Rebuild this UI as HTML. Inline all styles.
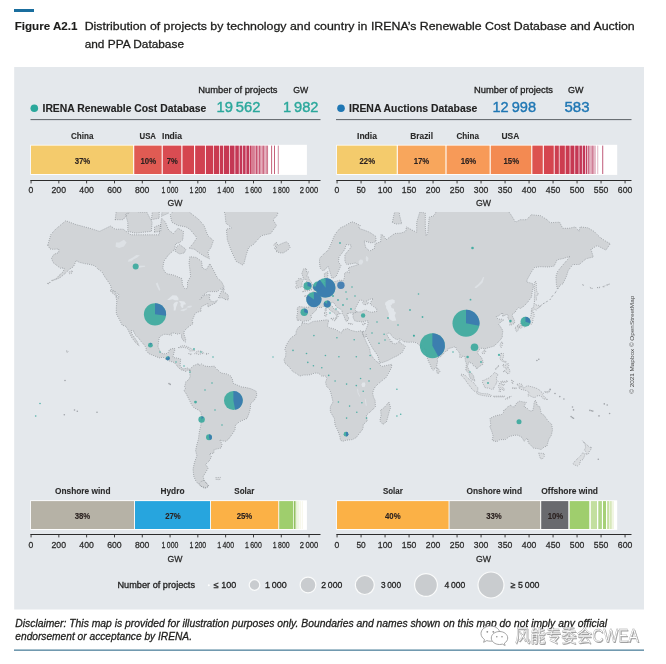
<!DOCTYPE html>
<html><head><meta charset="utf-8"><title>Figure A2.1</title>
<style>html,body{margin:0;padding:0;background:#fff}svg{display:block}text{font-family:"Liberation Sans", "Noto Sans CJK SC", sans-serif}</style>
</head><body>
<svg width="666" height="664" viewBox="0 0 666 664">
<rect width="666" height="664" fill="#fff"/>
<rect x="14" y="9" width="20" height="3" fill="#1a6e9e"/>
<text x="14.7" y="30.1" font-size="11.4" font-weight="bold" fill="#1d1d1b" stroke="#1d1d1b" stroke-width="0.12" textLength="62.8" lengthAdjust="spacingAndGlyphs">Figure A2.1</text>
<text x="84.7" y="30.1" font-size="11.4" fill="#1d1d1b" stroke="#1d1d1b" stroke-width="0.28" textLength="550.0" lengthAdjust="spacingAndGlyphs">Distribution of projects by technology and country in IRENA’s Renewable Cost Database and Auction</text>
<text x="84.7" y="47.5" font-size="11.4" fill="#1d1d1b" stroke="#1d1d1b" stroke-width="0.28" textLength="99.3" lengthAdjust="spacingAndGlyphs">and PPA Database</text>
<rect x="14.2" y="67" width="629.8" height="542.5" fill="#e4e8ec"/>
<g id="map"><defs><clipPath id="mc"><rect x="14.2" y="212" width="629.8" height="290"/></clipPath></defs><g clip-path="url(#mc)"><path d="M47.7 245.2L50.9 234.4L55.6 229.2L65.8 220.7L76.0 224.6L90.1 228.3L99.5 231.4L110.5 226.0L115.2 229.2L123.1 229.2L130.9 234.8L141.9 234.8L151.4 234.8L159.2 234.8L161.6 218.2L165.5 222.2L168.6 230.1L173.3 233.5L178.0 228.3L183.5 231.4L182.8 239.8L179.6 242.5L175.7 243.7L174.1 250.1L168.6 254.7L163.9 261.3L162.8 268.2L166.0 273.6L173.3 275.0L182.0 278.6L182.4 285.0L185.1 288.9L187.5 288.4L187.5 281.9L190.6 276.4L189.8 269.1L189.0 263.0L189.8 256.7L196.1 257.4L201.6 261.3L202.4 268.2L206.3 269.7L209.9 263.6L214.2 271.5L217.3 277.8L221.7 281.9L224.1 287.1L220.4 289.1L217.3 291.6L207.9 291.6L203.2 295.2L200.0 299.4L204.7 295.0L210.2 294.3L209.4 297.3L210.1 300.8L214.2 301.9L217.3 300.3L215.7 303.0L211.6 304.8L207.9 307.0L207.9 303.7L206.3 304.2L201.6 306.6L200.5 309.8L201.6 310.8L198.5 311.9L195.3 313.1L193.3 318.0L192.2 320.6L193.0 323.7L189.4 326.2L187.5 327.7L184.3 330.7L183.9 334.1L185.7 339.3L185.3 342.1L183.1 340.4L181.5 337.4L181.5 335.0L179.6 333.6L177.3 334.1L174.1 333.0L171.0 333.2L171.5 335.2L167.8 334.5L163.9 334.3L159.5 336.8L158.7 340.7L158.0 346.7L160.5 352.3L163.1 353.9L167.8 353.4L169.4 349.6L173.3 348.3L175.2 348.8L174.0 352.6L172.9 357.5L176.5 357.9L180.7 359.0L180.1 365.3L182.3 368.8L185.9 368.5L187.5 368.0L190.0 369.4L189.8 371.3L188.3 369.6L185.9 371.5L183.5 370.4L181.2 369.9L178.0 367.2L176.8 365.5L174.1 362.4L170.2 361.3L166.6 359.8L163.1 357.2L159.2 357.9L154.5 355.9L149.0 353.8L145.9 350.4L146.2 348.1L144.3 345.0L141.2 341.6L138.8 338.4L134.9 334.5L133.8 331.2L131.4 330.5L131.7 333.6L134.6 337.7L137.2 341.6L139.1 345.9L135.7 342.8L131.7 337.5L129.4 332.7L127.5 328.8L125.5 326.2L122.2 325.2L120.0 320.8L119.0 318.8L117.1 315.4L116.3 313.3L116.3 308.1L116.8 300.8L115.7 295.9L118.7 298.3L118.7 294.5L116.0 292.1L111.6 289.6L110.5 285.3L107.4 280.5L105.0 277.2L101.9 271.8L98.0 269.1L94.8 265.8L90.1 264.5L84.6 263.6L79.1 262.3L76.3 260.4L73.5 266.7L69.7 269.1L65.0 273.6L60.3 277.5L54.8 280.0L58.7 275.8L63.4 271.5L64.2 267.9L60.3 268.2L57.2 265.8L53.1 262.6L51.5 258.1L54.0 254.3L58.7 252.6L58.7 249.0L53.2 249.3L50.1 249.0ZM242.4 264.8L236.1 261.3L231.4 251.1L227.3 239.8L226.4 229.2L231.4 227.8L225.9 223.1L225.1 214.7L222.0 203.6L217.3 194.3L204.7 193.0L198.5 180.4L207.9 163.8L217.3 143.7L240.8 131.6L264.4 125.0L280.1 143.7L287.9 163.8L283.2 187.6L280.9 203.6L277.0 215.7L273.0 219.7L276.5 225.5L270.7 233.5L261.3 235.7L253.4 244.5L248.7 247.5L246.3 254.7L244.0 263.6ZM190.0 369.4L193.0 365.9L194.7 365.3L198.5 363.5L199.2 365.6L201.6 363.9L204.7 366.1L210.2 366.6L214.2 366.1L215.7 367.9L217.3 369.6L221.2 373.1L226.7 373.9L230.6 375.9L233.0 380.5L232.5 383.0L236.1 384.6L241.6 386.9L246.3 387.6L251.1 388.8L256.1 391.2L256.9 394.8L255.8 398.0L253.4 401.2L250.6 403.6L250.3 408.5L249.3 412.6L247.1 418.4L243.2 420.1L239.3 421.8L235.4 425.3L235.0 429.7L232.2 434.2L228.3 439.4L225.9 441.3L222.0 440.8L219.8 439.8L222.0 444.2L221.1 448.0L214.2 449.6L213.7 453.3L209.4 453.7L211.5 456.8L209.0 461.2L205.5 464.5L208.2 468.0L205.5 472.7L203.2 476.4L204.0 479.9L208.7 486.3L204.7 488.5L200.0 485.5L196.1 481.5L193.8 476.4L193.0 469.1L194.5 462.3L196.9 455.8L195.6 450.6L196.6 445.6L198.5 438.9L199.2 432.4L200.8 425.3L201.3 416.7L201.0 412.2L198.5 410.1L193.8 407.6L191.7 404.9L190.3 402.0L187.5 396.4L185.9 393.2L184.0 390.9L185.4 388.3L184.6 386.6L185.4 383.8L185.9 381.7L187.5 380.6L189.0 379.1L190.1 376.7L189.8 373.6L189.8 371.3ZM302.2 322.7L308.4 323.9L313.1 321.4L319.4 320.8L326.9 319.8L328.8 320.4L328.0 323.3L327.5 326.2L329.6 327.7L335.1 329.2L341.3 332.9L342.9 329.9L347.6 328.6L350.8 330.3L357.0 331.8L360.2 330.8L362.2 331.4L362.7 333.8L364.9 338.9L367.2 344.2L369.6 348.4L370.4 353.4L373.5 358.4L376.7 361.6L379.3 363.2L379.5 364.8L382.1 366.4L386.9 365.3L391.9 364.3L391.3 368.0L388.4 373.6L386.1 377.5L382.1 380.6L377.4 384.6L375.1 386.9L373.5 390.1L372.7 393.2L373.5 397.2L375.1 400.4L375.4 406.8L371.9 410.4L368.8 413.1L366.4 415.1L367.2 421.0L363.3 424.4L363.0 428.8L360.2 432.4L356.2 437.6L352.3 439.6L346.0 440.2L342.9 441.3L340.4 440.2L339.8 436.1L337.4 429.7L335.1 425.3L334.3 418.4L330.3 411.7L330.3 406.8L333.0 402.0L331.9 397.2L330.7 392.4L329.6 389.6L326.4 386.1L325.6 382.2L326.9 378.3L325.3 375.9L321.7 376.2L318.6 373.2L314.6 373.1L309.9 374.8L306.8 375.1L303.6 375.0L299.7 376.1L296.6 373.6L293.4 372.1L290.8 369.1L288.3 365.9L285.1 363.5L284.0 359.7L285.6 356.7L285.9 351.8L284.8 349.3L286.4 345.0L288.3 341.6L291.1 337.7L295.8 334.5L296.3 330.8L298.2 327.5L301.3 325.2ZM388.9 402.0L390.6 407.6L389.2 411.7L386.5 421.8L382.9 424.4L379.8 421.0L381.1 415.1L380.6 410.1L383.7 408.0L386.9 404.4ZM297.4 320.4L296.6 317.0L297.7 312.3L297.1 308.1L298.9 306.6L305.2 307.2L308.7 307.2L309.6 302.6L307.6 298.5L304.1 295.9L309.0 295.2L309.1 292.8L311.8 293.3L314.0 290.1L317.0 288.6L318.9 284.5L322.5 283.2L325.3 282.1L324.4 277.8L324.4 273.6L328.0 271.5L327.7 276.4L326.9 279.2L328.8 281.9L333.5 281.9L340.5 280.0L342.9 280.8L344.5 277.8L344.5 273.6L346.8 271.5L349.2 273.0L348.4 267.6L355.5 265.5L358.6 264.5L355.5 263.0L350.8 263.9L346.8 264.5L344.9 261.3L344.9 254.7L350.8 247.5L351.2 245.2L346.0 244.5L344.9 249.3L339.0 257.0L338.5 262.3L341.0 265.2L337.4 273.6L336.3 276.1L334.0 277.8L331.9 278.1L331.1 275.6L329.1 269.1L328.0 266.1L324.8 270.0L322.5 270.6L320.1 268.2L319.4 261.3L319.8 258.1L324.8 252.9L328.0 250.4L331.1 243.7L334.3 235.7L336.6 232.2L340.5 227.8L344.5 226.0L351.8 221.7L355.5 223.1L360.2 225.5L358.6 228.3L364.1 230.1L369.6 232.2L375.9 236.5L375.9 241.8L371.2 242.9L364.1 241.0L365.7 247.5L369.6 251.1L374.3 248.6L375.1 243.7L380.6 241.8L381.1 234.4L383.7 235.7L386.1 239.8L394.7 233.5L401.0 233.1L405.7 231.4L406.5 226.9L412.0 230.1L416.7 232.2L416.7 222.2L419.8 212.0L425.3 213.1L425.3 226.9L426.1 235.7L427.7 233.5L429.2 217.2L434.0 215.7L437.9 208.7L449.7 197.5L468.5 191.0L474.8 182.6L479.5 191.0L488.9 194.3L489.7 207.6L496.8 209.3L506.2 208.2L510.9 214.7L515.6 222.2L520.3 219.7L526.6 219.7L531.3 214.7L540.7 215.7L547.0 219.7L550.1 222.7L559.6 222.2L562.7 228.3L569.0 228.3L575.3 226.9L579.2 231.4L580.0 226.9L587.8 227.8L594.1 231.4L600.4 237.7L606.7 241.8L610.3 243.7L605.9 250.1L597.2 245.6L591.0 249.3L593.3 257.0L586.2 258.7L579.2 264.5L572.9 264.5L568.2 270.6L566.6 275.8L565.1 279.2L562.7 284.0L560.3 285.0L557.5 289.6L556.4 284.5L555.9 276.4L557.7 271.2L561.9 266.1L567.4 259.7L569.8 256.4L562.7 258.7L557.2 259.7L554.1 266.1L548.6 267.0L539.9 266.7L534.4 267.6L531.3 272.1L527.4 279.2L526.6 281.9L532.9 283.7L533.3 287.1L532.1 292.1L531.6 296.9L528.2 301.5L524.2 305.9L520.3 308.5L518.4 307.7L516.7 309.6L515.1 312.3L511.8 314.8L514.5 320.4L514.7 323.3L511.7 324.8L509.8 325.2L510.1 320.4L507.8 318.4L508.1 315.2L506.7 314.4L502.6 316.4L502.7 312.7L498.3 316.0L496.3 316.4L498.0 319.2L501.5 319.2L503.8 320.0L500.7 322.0L498.8 324.3L500.7 327.1L502.7 330.3L502.7 332.1L502.3 334.5L502.3 337.2L499.4 341.1L496.8 343.3L494.4 345.9L490.8 347.1L485.8 348.4L484.7 350.4L483.7 348.4L481.1 348.3L479.0 350.1L477.4 352.6L479.0 355.1L481.5 357.5L483.1 361.6L482.9 364.3L479.5 366.4L476.4 369.1L476.4 367.2L473.2 365.6L472.4 363.7L470.1 362.7L469.3 361.6L468.5 363.2L467.4 366.4L468.5 368.8L469.3 371.7L471.6 373.2L473.7 375.9L474.0 378.6L475.1 380.8L474.0 380.8L470.5 378.6L469.3 375.9L469.0 373.6L467.7 372.0L465.8 370.4L466.1 366.4L466.5 364.0L465.4 360.8L464.9 356.7L462.2 356.2L461.1 357.9L459.6 357.2L459.9 354.3L458.8 351.8L456.3 349.3L455.6 346.7L453.6 347.1L451.2 347.9L448.1 348.6L447.8 350.4L445.7 351.4L443.4 353.8L440.7 356.6L437.6 357.9L437.3 359.2L437.6 362.1L436.8 364.3L436.8 366.7L435.5 368.3L434.3 369.0L433.2 370.2L431.3 368.0L430.3 364.8L428.9 362.4L427.7 359.2L426.1 355.1L425.8 352.6L425.8 349.3L424.9 348.9L422.7 349.8L419.8 347.2L421.9 345.9L419.0 345.0L416.7 342.8L412.8 342.1L408.1 342.3L403.3 341.6L401.0 339.3L399.9 338.8L397.1 339.7L393.9 338.1L391.6 335.8L390.5 333.6L388.1 333.0L386.9 333.9L387.6 336.3L390.0 339.5L390.3 341.6L391.6 340.7L392.4 343.1L395.5 344.0L398.6 341.7L399.9 340.4L400.2 343.3L403.7 344.9L405.4 346.7L403.3 350.1L402.1 352.6L399.4 354.4L397.1 355.9L393.5 357.5L388.4 360.3L382.9 362.4L379.8 362.9L378.7 359.5L378.2 356.7L375.9 352.9L373.0 348.8L370.4 344.2L367.2 338.1L366.4 336.3L366.3 334.5L365.4 337.2L363.6 336.3L362.7 333.8L362.2 331.4L365.4 331.2L366.4 328.4L367.7 325.2L368.0 322.3L368.3 321.0L365.7 321.0L362.5 322.2L359.4 321.4L357.0 321.4L354.7 320.8L353.1 317.4L353.1 315.4L352.6 314.0L357.0 311.9L361.0 311.9L364.1 310.2L366.4 310.2L368.8 311.7L371.9 312.3L376.7 311.3L376.7 308.7L373.5 306.6L370.4 304.2L370.4 302.8L371.9 300.3L373.2 298.7L370.4 299.2L366.4 301.0L368.8 303.0L366.9 304.2L364.4 305.0L362.5 302.8L364.1 301.5L361.7 300.3L359.7 300.3L358.1 303.0L356.6 305.9L355.5 308.1L355.0 309.2L355.8 311.1L357.0 311.9L355.5 312.3L353.1 312.7L352.3 313.1L349.2 312.7L348.4 314.0L347.1 313.3L347.1 315.4L348.4 317.4L349.2 318.4L347.9 319.4L347.3 321.4L345.6 320.8L344.8 318.4L343.7 315.4L342.1 313.3L342.1 310.6L340.5 309.2L336.6 307.0L335.1 304.8L334.0 303.0L333.0 302.2L331.1 302.8L330.8 305.3L332.7 306.8L334.3 309.6L336.6 310.4L339.8 312.9L340.5 314.2L338.2 313.3L337.6 315.0L338.3 316.4L336.8 318.4L336.1 318.4L336.6 316.4L335.8 314.4L334.0 312.7L330.8 310.8L328.0 308.1L327.5 306.1L325.3 305.0L323.3 306.4L320.9 307.9L318.6 307.2L316.5 307.7L316.5 309.6L315.0 311.5L312.0 314.0L311.0 315.6L311.8 317.0L310.4 319.2L308.4 320.8L304.6 321.0L303.0 322.2L301.6 321.0L299.9 320.0ZM490.0 418.4L490.8 425.3L489.7 426.2L492.1 432.4L493.1 436.1L492.1 440.4L496.8 441.7L499.9 439.6L505.4 439.6L509.3 436.6L514.0 435.3L518.0 435.2L521.9 437.4L524.2 441.3L527.4 437.9L528.2 442.7L531.0 445.6L533.7 448.2L537.6 448.6L541.2 449.6L543.9 447.2L547.0 446.0L548.1 441.7L549.0 438.9L551.4 435.2L552.5 429.7L551.7 424.4L548.6 421.5L546.2 418.4L543.9 415.1L541.2 413.4L540.4 409.3L539.6 406.5L537.1 405.7L536.5 402.0L535.2 400.1L534.0 403.3L533.7 406.8L532.6 410.9L529.7 410.9L527.4 408.5L524.2 406.8L525.0 404.4L526.3 402.3L523.5 402.0L519.5 401.2L517.2 402.5L515.6 404.4L514.8 406.8L512.5 406.8L510.9 405.2L508.5 406.0L506.2 408.9L503.8 410.1L503.4 412.6L501.5 414.6L498.3 415.1L494.7 416.1L491.7 417.6ZM436.9 367.7L439.0 369.4L439.9 371.5L439.0 373.1L437.4 373.6L436.6 371.2ZM302.7 291.8L306.0 291.1L309.9 290.4L313.7 289.1L312.6 288.4L314.2 285.3L312.0 284.5L311.2 281.9L309.1 279.2L308.4 276.7L306.8 276.1L308.4 271.8L306.0 271.5L306.8 268.8L303.6 268.8L301.8 273.6L302.9 276.4L303.6 279.2L306.0 279.4L306.8 281.9L306.5 283.7L304.4 283.7L304.9 286.3L303.3 287.6L306.8 288.6L304.7 289.4ZM302.1 286.6L301.9 283.2L302.9 280.3L301.3 278.6L298.6 278.6L298.0 280.8L295.8 281.3L296.1 283.7L296.9 285.6L295.3 287.1L296.6 288.4L298.9 287.6ZM276.2 251.5L280.1 252.9L283.2 252.9L287.9 250.1L290.1 247.5L288.6 243.7L286.4 241.8L283.2 242.9L279.6 244.5L278.1 245.6L276.2 242.1L273.8 245.2L277.0 247.5L274.1 248.2L277.0 250.1ZM218.4 297.8L220.4 293.3L222.5 288.4L224.4 288.4L223.6 292.1L226.7 293.5L228.3 295.7L228.3 299.9L224.4 299.4L223.6 297.8ZM110.1 290.1L114.5 291.6L117.6 295.7L115.2 295.2L111.3 292.1ZM209.4 258.7L204.7 256.4L199.2 252.9L194.5 249.3L189.0 248.2L193.0 243.7L196.9 237.7L189.8 229.2L185.9 226.9L178.0 225.5L171.8 222.2L170.2 214.7L176.5 207.6L184.3 208.2L190.6 213.1L198.5 219.2L204.0 225.5L207.9 235.7L213.4 240.6L211.0 247.5L207.9 251.8ZM127.8 231.4L135.7 233.1L143.5 232.2L151.4 231.4L152.1 222.2L146.7 212.0L138.8 212.0L130.9 209.3L125.5 214.7L127.8 222.2ZM115.2 219.7L123.1 219.7L129.4 212.0L124.7 203.6L116.8 206.5ZM174.9 251.1L179.6 254.0L184.3 252.9L185.9 249.3L179.6 244.5L176.5 246.7ZM154.5 232.2L160.8 231.4L160.8 224.6L154.5 226.9ZM161.6 216.2L168.6 213.1L169.4 206.5L162.3 206.5ZM151.4 219.7L159.2 218.2L159.2 209.3L152.9 207.6ZM392.4 222.2L395.5 224.1L401.8 223.6L399.4 214.7L399.4 206.5L405.7 197.5L415.1 191.0L419.0 187.6L413.6 186.2L402.6 194.3L397.1 203.6L393.9 214.7ZM203.8 480.4L209.0 486.0L206.3 487.7L200.8 486.3L199.2 483.6L201.1 481.5Z" fill="#d1d4d7" stroke="#878b90" stroke-width="0.8" stroke-dasharray="0.8 1.4" stroke-linejoin="round"/><path d="M538.7 453.1L544.2 453.5L544.2 456.8L542.3 459.0L540.4 458.6L539.5 455.8ZM582.6 440.8L585.5 443.7L587.5 445.2L589.4 447.6L591.7 447.0L590.6 450.0L589.4 451.0L588.6 453.7L586.2 454.7L585.9 451.6L584.4 450.2L585.6 447.6L585.2 444.6ZM582.8 452.7L585.0 454.3L583.9 457.5L582.8 459.6L580.4 460.7L579.7 464.1L577.6 465.9L574.5 465.0L572.9 463.8L575.3 460.7L578.4 457.9L580.8 455.4ZM517.2 384.3L519.5 383.6L521.9 384.3L523.5 388.2L527.4 385.7L532.9 387.1L538.4 389.0L540.7 391.6L543.5 393.2L542.6 394.8L544.6 397.2L547.8 399.6L543.1 398.8L540.7 395.6L536.8 395.9L535.2 397.5L532.9 397.3L529.7 395.6L528.2 396.2L528.2 394.0L529.4 393.2L527.4 390.9L523.5 389.9L520.3 389.3L518.7 387.6L521.6 386.6L518.7 386.1L516.9 385.0ZM482.6 380.6L484.2 380.3L486.2 379.1L488.9 378.0L491.3 375.8L493.6 373.6L495.2 372.0L496.3 373.6L498.3 374.8L496.8 376.2L496.4 379.9L498.3 381.4L496.3 382.2L496.0 384.6L494.4 386.1L493.6 389.0L491.3 389.3L488.9 388.0L486.6 388.0L484.5 387.4L484.2 385.4L482.6 383.5ZM461.1 374.2L464.6 374.8L466.9 377.2L469.3 379.4L471.6 381.1L474.0 383.0L475.6 385.4L477.9 387.7L477.6 392.1L475.6 392.1L472.1 389.3L469.8 386.1L467.2 382.7L465.4 379.9L463.0 377.2L461.0 375.1ZM476.8 393.5L478.7 392.4L481.8 393.5L485.0 393.7L488.1 393.9L491.3 395.3L491.0 396.6L486.6 396.1L481.8 395.3L478.7 394.5ZM499.1 391.6L499.4 388.5L498.3 386.9L499.6 383.0L501.2 381.1L504.6 381.4L507.8 380.5L507.0 382.2L503.0 382.4L500.7 383.0L501.5 384.6L504.9 384.3L503.0 385.8L502.3 386.9L503.8 388.5L504.6 390.1L503.0 390.5L501.9 388.8L500.7 387.7L500.5 391.6ZM501.0 353.4L503.4 353.6L503.5 356.7L502.4 359.2L503.0 360.8L506.2 361.6L506.2 363.1L504.6 362.1L502.3 361.3L501.0 360.5L499.9 358.4L500.5 356.7ZM503.0 372.0L505.4 369.6L508.5 367.7L509.9 370.4L509.6 372.8L508.5 374.0L506.5 373.2L506.2 371.5L504.6 371.2ZM503.0 364.3L504.9 364.8L506.2 365.6L508.1 363.2L508.7 365.3L507.8 367.2L505.4 368.0L503.8 367.2L503.0 366.4ZM495.5 369.8L499.1 365.9L498.8 365.1L495.2 369.1ZM501.5 342.1L502.9 342.4L502.1 345.5L501.2 347.6L500.1 345.9L500.4 343.8ZM482.2 352.3L483.4 350.9L485.8 351.3L485.0 353.1L483.4 353.9L482.2 353.3ZM517.0 326.0L519.5 323.5L522.4 323.1L525.0 322.3L526.3 319.8L528.9 319.6L530.5 317.4L531.3 314.4L531.3 312.3L533.5 311.7L534.1 314.4L534.0 316.8L532.9 318.0L532.9 320.8L532.4 322.9L531.3 324.3L530.8 323.5L529.3 324.8L527.1 325.0L526.3 325.6L525.0 327.1L523.8 326.6L523.5 325.0L521.1 325.6L519.2 326.0L517.2 326.4ZM531.3 311.3L531.8 308.1L533.7 307.4L534.0 303.0L536.3 305.0L539.6 305.5L540.1 307.4L537.6 308.1L536.3 310.2L534.0 308.9L532.9 309.4L532.9 310.8ZM515.1 327.5L516.9 326.4L518.3 327.1L518.6 328.6L517.8 331.0L516.7 331.6L515.9 331.0L516.1 329.0L515.1 328.4ZM519.4 326.6L521.9 325.6L523.0 326.6L522.2 327.5L520.3 328.4L519.4 327.9ZM534.4 301.5L536.6 299.7L536.0 295.7L538.7 294.5L536.5 290.9L536.3 287.1L536.3 283.2L535.5 281.1L534.4 283.2L534.1 287.1L534.8 292.1L534.4 296.9ZM331.1 318.4L336.0 318.0L335.2 321.0L331.1 319.2ZM324.4 312.5L325.9 311.9L326.9 313.3L326.6 316.0L324.8 316.4L324.7 314.4ZM325.0 309.2L326.3 308.1L326.4 310.6L325.3 311.3ZM348.6 323.3L352.8 323.9L352.6 324.3L348.6 323.9ZM362.2 324.3L365.8 322.9L364.9 324.3L363.3 325.0ZM178.2 347.7L181.2 345.9L185.1 345.7L189.8 347.9L193.0 349.8L195.0 350.6L189.8 351.1L189.4 350.1L188.3 348.4L183.5 347.4L181.2 347.6ZM194.7 353.6L197.2 351.1L201.6 351.1L204.1 353.3L200.8 353.9L198.9 354.8L197.7 353.8ZM188.6 353.6L191.7 354.1L190.3 354.6ZM206.0 353.4L208.4 353.6L207.9 354.3L206.0 354.3ZM215.7 477.6L220.4 477.4L219.7 479.7L216.0 479.4ZM66.6 350.6L68.3 351.6L67.1 352.8L66.6 351.6ZM544.6 391.6L547.8 391.6L550.5 389.6L550.1 391.3L547.8 392.8L545.1 392.4ZM505.6 399.1L507.8 397.2L511.2 396.2L510.1 397.5L507.0 399.1ZM493.6 396.2L498.3 396.1L504.6 396.1L504.3 396.9L498.3 396.9L493.6 397.0ZM511.7 380.2L513.6 381.4L512.5 384.1L512.0 382.2ZM512.5 387.7L516.9 388.0L515.6 388.7L512.5 388.3ZM582.3 284.8L583.9 284.5L583.6 285.3ZM589.9 287.3L592.5 288.4L591.0 288.6ZM597.2 287.6L600.4 287.1L598.8 288.1ZM602.7 286.6L605.1 285.8L604.3 287.1ZM606.7 285.0L609.8 283.7L608.2 285.3ZM47.0 283.7L50.4 281.9L49.3 283.7ZM51.7 280.5L54.8 279.2L53.2 280.8ZM68.9 272.1L72.4 270.6L72.1 273.0L69.7 273.8ZM539.9 306.4L542.3 304.6L541.5 304.8ZM543.1 303.7L545.1 302.6L544.6 303.0ZM546.2 301.9L547.8 301.0L547.0 301.7ZM549.8 299.7L550.9 298.5L550.5 299.2ZM551.7 296.9L553.3 295.0L552.5 296.2ZM554.9 293.3L556.4 290.9L555.6 292.3Z" fill="#dadde0" stroke="#8d9196" stroke-width="0.8" stroke-dasharray="0.8 1.3" stroke-linejoin="round"/><path d="M385.0 304.4L385.3 302.6L388.4 300.3L392.4 299.2L394.7 300.3L394.7 303.0L392.0 303.7L391.6 305.3L390.5 304.8L391.6 308.1L393.9 308.7L394.2 311.3L396.0 312.7L394.7 315.4L396.0 319.4L396.3 320.6L392.4 321.0L390.0 319.6L388.4 317.8L388.9 313.8L387.6 310.6L386.1 308.1L386.1 305.9ZM167.1 299.9L170.2 297.3L172.6 295.2L176.5 295.5L178.4 298.0L178.5 300.3L174.9 300.3L172.6 299.2L169.4 300.1ZM173.7 310.6L175.5 310.6L176.2 307.0L178.0 302.2L177.0 301.5L174.4 302.8L173.3 304.6L173.8 307.7ZM178.7 301.5L180.4 301.0L184.3 301.5L186.2 304.2L183.5 304.8L183.2 307.7L182.0 308.1L180.4 305.5L180.7 303.3ZM361.4 384.6L362.5 382.5L364.9 382.5L365.4 384.6L364.6 386.9L362.2 387.1Z" fill="#e2e6ea"/><path d="M180.4 310.8L183.5 311.3L187.5 308.9L186.7 308.3L183.5 308.9L181.2 309.8ZM186.2 307.4L189.8 307.7L191.9 306.8L191.4 305.5L188.3 306.1ZM115.6 246.7L119.2 247.9L123.9 246.4L126.6 242.5L123.9 239.8L119.2 242.5L116.0 242.5ZM127.8 261.7L131.7 261.3L133.3 259.4L137.2 257.4L139.9 255.3L136.4 255.0L132.8 257.4L128.6 259.7ZM159.2 291.1L160.3 289.6L158.9 286.3L157.6 282.4L155.8 283.5L157.0 286.6L158.3 288.9ZM136.8 268.8L140.4 267.6L145.1 266.7L145.1 265.8L139.6 265.8L136.8 267.3ZM357.3 388.3L358.3 390.1L358.3 392.4L360.2 396.6L359.4 396.6L357.7 393.2L357.2 390.1ZM364.7 398.1L365.8 399.6L366.3 402.8L366.8 405.7L365.8 405.7L365.2 402.0L364.9 399.6ZM474.5 288.1L476.4 288.1L479.5 285.6L482.6 282.4L484.2 277.2L483.1 277.0L481.1 281.1L477.9 284.5L475.6 286.3ZM359.1 264.5L361.7 264.5L363.3 262.0L362.5 259.7L360.2 259.4L358.6 261.3ZM366.1 261.3L368.0 261.3L368.5 258.1L366.4 255.7L365.7 258.1Z" fill="#dde1e5"/></g></g>
<g id="bubbles"><circle cx="64.3" cy="414.7" r="0.8" fill="#9fa3a8"/><circle cx="74.5" cy="410.0" r="0.8" fill="#9fa3a8"/><circle cx="77.3" cy="411.2" r="0.8" fill="#9fa3a8"/><circle cx="97.0" cy="412.2" r="0.8" fill="#9fa3a8"/><circle cx="65.0" cy="380.5" r="0.8" fill="#9fa3a8"/><circle cx="169.0" cy="383.6" r="0.8" fill="#9fa3a8"/><circle cx="170.2" cy="384.4" r="0.8" fill="#9fa3a8"/><circle cx="550.1" cy="389.4" r="0.8" fill="#9fa3a8"/><circle cx="555.0" cy="393.5" r="0.8" fill="#9fa3a8"/><circle cx="559.8" cy="396.6" r="0.8" fill="#9fa3a8"/><circle cx="563.9" cy="399.0" r="0.8" fill="#9fa3a8"/><circle cx="572.5" cy="407.0" r="0.8" fill="#9fa3a8"/><circle cx="573.5" cy="409.9" r="0.8" fill="#9fa3a8"/><circle cx="571.1" cy="416.6" r="0.8" fill="#9fa3a8"/><circle cx="572.3" cy="417.6" r="0.8" fill="#9fa3a8"/><circle cx="573.5" cy="418.3" r="0.8" fill="#9fa3a8"/><circle cx="589.9" cy="410.4" r="0.8" fill="#9fa3a8"/><circle cx="591.4" cy="410.8" r="0.8" fill="#9fa3a8"/><circle cx="592.8" cy="411.1" r="0.8" fill="#9fa3a8"/><circle cx="599.0" cy="415.9" r="0.8" fill="#9fa3a8"/><circle cx="604.3" cy="403.9" r="0.8" fill="#9fa3a8"/><circle cx="607.2" cy="405.0" r="0.8" fill="#9fa3a8"/><circle cx="609.6" cy="413.5" r="0.8" fill="#9fa3a8"/><circle cx="536.9" cy="360.5" r="0.8" fill="#9fa3a8"/><circle cx="538.8" cy="359.3" r="0.8" fill="#9fa3a8"/><circle cx="598.3" cy="459.3" r="0.8" fill="#9fa3a8"/><circle cx="293.0" cy="350.4" r="0.8" fill="#38a89c" fill-opacity="0.85"/><circle cx="306.5" cy="353.5" r="0.8" fill="#38a89c" fill-opacity="0.85"/><circle cx="307.8" cy="362.4" r="0.8" fill="#38a89c" fill-opacity="0.85"/><circle cx="313.4" cy="365.7" r="0.8" fill="#38a89c" fill-opacity="0.85"/><circle cx="321.8" cy="367.8" r="0.8" fill="#38a89c" fill-opacity="0.85"/><circle cx="325.4" cy="355.5" r="0.8" fill="#38a89c" fill-opacity="0.85"/><circle cx="338.9" cy="356.8" r="0.8" fill="#38a89c" fill-opacity="0.85"/><circle cx="313.9" cy="335.6" r="0.8" fill="#38a89c" fill-opacity="0.85"/><circle cx="336.9" cy="337.7" r="0.8" fill="#38a89c" fill-opacity="0.85"/><circle cx="354.2" cy="339.7" r="0.8" fill="#38a89c" fill-opacity="0.85"/><circle cx="356.3" cy="356.8" r="0.8" fill="#38a89c" fill-opacity="0.85"/><circle cx="379.0" cy="343.3" r="0.8" fill="#38a89c" fill-opacity="0.85"/><circle cx="370.1" cy="355.5" r="0.8" fill="#38a89c" fill-opacity="0.85"/><circle cx="370.3" cy="368.8" r="0.8" fill="#38a89c" fill-opacity="0.85"/><circle cx="360.6" cy="378.5" r="0.8" fill="#38a89c" fill-opacity="0.85"/><circle cx="356.3" cy="385.6" r="0.8" fill="#38a89c" fill-opacity="0.85"/><circle cx="346.6" cy="384.1" r="0.8" fill="#38a89c" fill-opacity="0.85"/><circle cx="335.1" cy="381.0" r="0.8" fill="#38a89c" fill-opacity="0.85"/><circle cx="328.7" cy="375.4" r="0.8" fill="#38a89c" fill-opacity="0.85"/><circle cx="363.2" cy="391.3" r="0.8" fill="#38a89c" fill-opacity="0.85"/><circle cx="369.0" cy="381.0" r="0.8" fill="#38a89c" fill-opacity="0.85"/><circle cx="338.4" cy="402.0" r="0.8" fill="#38a89c" fill-opacity="0.85"/><circle cx="349.6" cy="406.1" r="0.8" fill="#38a89c" fill-opacity="0.85"/><circle cx="356.8" cy="412.2" r="0.8" fill="#38a89c" fill-opacity="0.85"/><circle cx="346.6" cy="418.1" r="0.8" fill="#38a89c" fill-opacity="0.85"/><circle cx="366.5" cy="418.1" r="0.8" fill="#38a89c" fill-opacity="0.85"/><circle cx="361.9" cy="402.7" r="0.8" fill="#38a89c" fill-opacity="0.85"/><circle cx="396.9" cy="389.2" r="0.8" fill="#38a89c" fill-opacity="0.85"/><circle cx="396.9" cy="416.0" r="0.8" fill="#38a89c" fill-opacity="0.85"/><circle cx="400.7" cy="414.2" r="0.8" fill="#38a89c" fill-opacity="0.85"/><circle cx="413.7" cy="335.6" r="0.8" fill="#38a89c" fill-opacity="0.85"/><circle cx="384.1" cy="334.3" r="0.8" fill="#38a89c" fill-opacity="0.85"/><circle cx="470.5" cy="299.7" r="0.9" fill="#38a89c" fill-opacity="0.85"/><circle cx="410.0" cy="310.0" r="0.9" fill="#38a89c" fill-opacity="0.85"/><circle cx="422.5" cy="317.0" r="0.9" fill="#38a89c" fill-opacity="0.85"/><circle cx="414.0" cy="335.7" r="1" fill="#38a89c" fill-opacity="0.85"/><circle cx="467.6" cy="357.0" r="1.3" fill="#38a89c" fill-opacity="0.85"/><circle cx="499.0" cy="354.9" r="1.1" fill="#38a89c" fill-opacity="0.85"/><circle cx="418.5" cy="294.0" r="0.8" fill="#38a89c" fill-opacity="0.85"/><circle cx="453.0" cy="352.0" r="0.8" fill="#38a89c" fill-opacity="0.85"/><circle cx="481.0" cy="362.0" r="0.9" fill="#38a89c" fill-opacity="0.85"/><circle cx="488.0" cy="383.0" r="1" fill="#38a89c" fill-opacity="0.85"/><circle cx="470.0" cy="372.0" r="0.8" fill="#38a89c" fill-opacity="0.85"/><circle cx="398.0" cy="325.0" r="0.8" fill="#38a89c" fill-opacity="0.85"/><circle cx="388.0" cy="318.0" r="0.9" fill="#38a89c" fill-opacity="0.85"/><circle cx="377.0" cy="322.0" r="0.8" fill="#38a89c" fill-opacity="0.85"/><circle cx="372.0" cy="333.0" r="0.8" fill="#38a89c" fill-opacity="0.85"/><circle cx="385.0" cy="340.0" r="0.8" fill="#38a89c" fill-opacity="0.85"/><circle cx="333.0" cy="296.0" r="1" fill="#38a89c" fill-opacity="0.85"/><circle cx="338.0" cy="300.0" r="0.9" fill="#38a89c" fill-opacity="0.85"/><circle cx="343.0" cy="305.0" r="0.9" fill="#38a89c" fill-opacity="0.85"/><circle cx="347.0" cy="299.0" r="0.8" fill="#38a89c" fill-opacity="0.85"/><circle cx="351.0" cy="309.0" r="0.9" fill="#38a89c" fill-opacity="0.85"/><circle cx="336.0" cy="309.0" r="0.8" fill="#38a89c" fill-opacity="0.85"/><circle cx="330.0" cy="313.0" r="0.8" fill="#38a89c" fill-opacity="0.85"/><circle cx="346.0" cy="292.0" r="0.8" fill="#38a89c" fill-opacity="0.85"/><circle cx="355.0" cy="296.0" r="0.8" fill="#38a89c" fill-opacity="0.85"/><circle cx="352.0" cy="287.0" r="0.8" fill="#38a89c" fill-opacity="0.85"/><circle cx="340.0" cy="243.0" r="0.9" fill="#38a89c" fill-opacity="0.85"/><circle cx="212.0" cy="383.0" r="0.8" fill="#38a89c" fill-opacity="0.85"/><circle cx="205.0" cy="390.0" r="0.8" fill="#38a89c" fill-opacity="0.85"/><circle cx="222.0" cy="425.0" r="0.8" fill="#38a89c" fill-opacity="0.85"/><circle cx="215.0" cy="410.0" r="0.8" fill="#38a89c" fill-opacity="0.85"/><circle cx="190.0" cy="372.0" r="0.8" fill="#38a89c" fill-opacity="0.85"/><circle cx="184.0" cy="366.0" r="0.8" fill="#38a89c" fill-opacity="0.85"/><circle cx="176.0" cy="362.0" r="0.8" fill="#38a89c" fill-opacity="0.85"/><circle cx="160.0" cy="352.0" r="0.8" fill="#38a89c" fill-opacity="0.85"/><circle cx="213.0" cy="357.0" r="0.8" fill="#38a89c" fill-opacity="0.85"/><circle cx="201.0" cy="352.0" r="0.8" fill="#38a89c" fill-opacity="0.85"/><circle cx="194.0" cy="349.0" r="0.9" fill="#38a89c" fill-opacity="0.85"/><circle cx="40.0" cy="403.5" r="0.8" fill="#38a89c" fill-opacity="0.85"/><circle cx="35.7" cy="416.0" r="0.8" fill="#38a89c" fill-opacity="0.85"/><circle cx="273.0" cy="357.0" r="0.7" fill="#38a89c" fill-opacity="0.85"/><circle cx="155.0" cy="314.3" r="11.1" fill="#38a89c" fill-opacity="0.9"/><path d="M155.0 314.3L155.00 303.20A11.1 11.1 0 0 1 166.01 315.69Z" fill="#3b79b0" fill-opacity="0.9"/><circle cx="135.7" cy="266.5" r="3.0" fill="#38a89c" fill-opacity="0.9"/><circle cx="150.4" cy="345.2" r="2.4" fill="#38a89c" fill-opacity="0.9"/><path d="M150.4 345.2L150.40 342.80A2.4 2.4 0 0 1 151.81 343.26Z" fill="#3b79b0" fill-opacity="0.9"/><circle cx="167.8" cy="358.2" r="2.0" fill="#38a89c" fill-opacity="0.9"/><path d="M167.8 358.2L167.80 356.20A2.0 2.0 0 1 1 165.90 357.58Z" fill="#3b79b0" fill-opacity="0.9"/><circle cx="233.4" cy="400.5" r="9.4" fill="#38a89c" fill-opacity="0.9"/><path d="M233.4 400.5L233.40 391.10A9.4 9.4 0 0 1 235.16 409.73Z" fill="#3b79b0" fill-opacity="0.9"/><circle cx="195.5" cy="402.1" r="1.4" fill="#38a89c" fill-opacity="0.9"/><circle cx="201.6" cy="419.5" r="3.2" fill="#38a89c" fill-opacity="0.9"/><path d="M201.6 419.5L201.60 416.30A3.2 3.2 0 0 1 203.48 416.91Z" fill="#3b79b0" fill-opacity="0.9"/><circle cx="209.0" cy="437.2" r="3.0" fill="#38a89c" fill-opacity="0.9"/><path d="M209.0 437.2L209.00 434.20A3.0 3.0 0 0 1 209.93 440.05Z" fill="#3b79b0" fill-opacity="0.9"/><circle cx="466.0" cy="323.3" r="13.5" fill="#38a89c" fill-opacity="0.9"/><path d="M466.0 323.3L466.00 309.80A13.5 13.5 0 0 1 479.26 325.83Z" fill="#3b79b0" fill-opacity="0.9"/><circle cx="432.4" cy="345.7" r="12.5" fill="#38a89c" fill-opacity="0.9"/><path d="M432.4 345.7L432.40 333.20A12.5 12.5 0 0 1 438.42 356.65Z" fill="#3b79b0" fill-opacity="0.9"/><circle cx="474.5" cy="347.2" r="3.8" fill="#38a89c" fill-opacity="0.9"/><circle cx="525.5" cy="321.8" r="5.0" fill="#38a89c" fill-opacity="0.9"/><path d="M525.5 321.8L525.50 316.80A5.0 5.0 0 0 1 530.26 323.35Z" fill="#3b79b0" fill-opacity="0.9"/><circle cx="510.4" cy="321.0" r="1.3" fill="#38a89c" fill-opacity="0.9"/><circle cx="346.0" cy="434.2" r="2.4" fill="#38a89c" fill-opacity="0.9"/><path d="M346.0 434.2L346.00 431.80A2.4 2.4 0 0 1 346.00 436.60Z" fill="#3b79b0" fill-opacity="0.9"/><circle cx="519.0" cy="421.7" r="2.5" fill="#38a89c" fill-opacity="0.9"/><circle cx="472.5" cy="248.0" r="1.3" fill="#38a89c" fill-opacity="0.9"/><circle cx="363.1" cy="315.5" r="2.2" fill="#38a89c" fill-opacity="0.9"/><circle cx="307.5" cy="285.9" r="4.0" fill="#38a89c" fill-opacity="0.9"/><path d="M307.5 285.9L307.50 281.90A4.0 4.0 0 0 1 311.30 287.14Z" fill="#3b79b0" fill-opacity="0.9"/><circle cx="304.2" cy="312.2" r="3.7" fill="#38a89c" fill-opacity="0.9"/><path d="M304.2 312.2L304.20 308.50A3.7 3.7 0 0 1 307.72 313.34Z" fill="#3b79b0" fill-opacity="0.9"/><circle cx="340.9" cy="285.3" r="3.7" fill="#3b79b0" fill-opacity="0.9"/><circle cx="327.2" cy="304.0" r="3.5" fill="#38a89c" fill-opacity="0.9"/><path d="M327.2 304.0L327.20 300.50A3.5 3.5 0 1 1 324.37 301.94Z" fill="#3b79b0" fill-opacity="0.9"/><circle cx="317.8" cy="286.5" r="4.9" fill="#38a89c" fill-opacity="0.9"/><path d="M317.8 286.5L317.80 281.60A4.9 4.9 0 1 1 312.90 286.50Z" fill="#3b79b0" fill-opacity="0.9"/><circle cx="313.9" cy="299.5" r="7.6" fill="#38a89c" fill-opacity="0.9"/><path d="M313.9 299.5L313.90 291.90A7.6 7.6 0 1 1 307.75 295.03Z" fill="#3b79b0" fill-opacity="0.9"/><circle cx="325.6" cy="287.8" r="9.8" fill="#38a89c" fill-opacity="0.9"/><path d="M325.6 287.8L325.60 278.00A9.8 9.8 0 1 1 319.84 279.87Z" fill="#3b79b0" fill-opacity="0.9"/></g>
<text x="198.3" y="93.3" font-size="8.8" fill="#222" stroke="#222" stroke-width="0.28" textLength="79.2" lengthAdjust="spacingAndGlyphs">Number of projects</text>
<text x="293.3" y="93.3" font-size="8.8" fill="#222" stroke="#222" stroke-width="0.28" textLength="15.0" lengthAdjust="spacingAndGlyphs">GW</text>
<circle cx="34.3" cy="108.2" r="3.8" fill="#2ba89c"/>
<text x="42.5" y="112.0" font-size="11.2" font-weight="bold" fill="#222" stroke="#222" stroke-width="0.12" textLength="163.8" lengthAdjust="spacingAndGlyphs">IRENA Renewable Cost Database</text>
<text x="216.5" y="112.0" font-size="14.5" fill="#2ba89c" stroke="#2ba89c" stroke-width="0.4" textLength="44.0" lengthAdjust="spacingAndGlyphs">19 562</text>
<text x="283.0" y="112.0" font-size="14.5" fill="#2ba89c" stroke="#2ba89c" stroke-width="0.4" textLength="35.5" lengthAdjust="spacingAndGlyphs">1 982</text>
<rect x="30.5" y="119.2" width="290" height="0.9" fill="#4d5156"/>
<text x="474.0" y="93.3" font-size="8.8" fill="#222" stroke="#222" stroke-width="0.28" textLength="79.0" lengthAdjust="spacingAndGlyphs">Number of projects</text>
<text x="568.0" y="93.3" font-size="8.8" fill="#222" stroke="#222" stroke-width="0.28" textLength="15.5" lengthAdjust="spacingAndGlyphs">GW</text>
<circle cx="341" cy="108.2" r="3.8" fill="#1f77b4"/>
<text x="349.0" y="112.0" font-size="11.2" font-weight="bold" fill="#222" stroke="#222" stroke-width="0.12" textLength="128.3" lengthAdjust="spacingAndGlyphs">IRENA Auctions Database</text>
<text x="492.5" y="112.0" font-size="14.5" fill="#1f77b4" stroke="#1f77b4" stroke-width="0.4" textLength="43.5" lengthAdjust="spacingAndGlyphs">12 998</text>
<text x="564.5" y="112.0" font-size="14.5" fill="#1f77b4" stroke="#1f77b4" stroke-width="0.4" textLength="25.0" lengthAdjust="spacingAndGlyphs">583</text>
<rect x="336" y="119.2" width="295.5" height="0.9" fill="#4d5156"/>
<rect x="30.3" y="144.8" width="276.6" height="30.1" fill="#fff"/>
<rect x="31.00" y="145.6" width="102.15" height="28.4" fill="#f4cb6c"/>
<rect x="134.25" y="145.6" width="27.40" height="28.4" fill="#e05b53"/>
<rect x="162.75" y="145.6" width="18.60" height="28.4" fill="#d94c52"/>
<rect x="182.45" y="145.6" width="11.60" height="28.4" fill="#d5454f"/>
<rect x="195.15" y="145.6" width="9.80" height="28.4" fill="#d14150"/>
<rect x="205.85" y="145.6" width="7.30" height="28.4" fill="#cd3d50"/>
<rect x="213.85" y="145.6" width="5.40" height="28.4" fill="#c93a50"/>
<rect x="219.95" y="145.6" width="3.30" height="28.4" fill="#c83a52"/>
<rect x="223.95" y="145.6" width="5.20" height="28.4" fill="#c63852"/>
<rect x="229.85" y="145.6" width="4.70" height="28.4" fill="#c43754"/>
<rect x="235.25" y="145.6" width="3.60" height="28.4" fill="#c43755"/>
<rect x="239.55" y="145.6" width="2.80" height="28.4" fill="#c33756"/>
<rect x="243.05" y="145.6" width="2.60" height="28.4" fill="#c33757"/>
<rect x="246.35" y="145.6" width="3.00" height="28.4" fill="#c23757"/>
<rect x="250.05" y="145.6" width="1.60" height="28.4" fill="#c23858"/>
<rect x="252.35" y="145.6" width="1.30" height="28.4" fill="#c23858"/>
<rect x="254.40" y="145.6" width="1.00" height="28.4" fill="#c1395b"/>
<rect x="255.90" y="145.6" width="1.00" height="28.4" fill="#c23f60"/>
<rect x="257.40" y="145.6" width="1.00" height="28.4" fill="#c34464"/>
<rect x="258.90" y="145.6" width="1.00" height="28.4" fill="#c44a69"/>
<rect x="260.40" y="145.6" width="0.90" height="28.4" fill="#c54f6d"/>
<rect x="261.75" y="145.6" width="0.90" height="28.4" fill="#c65471"/>
<rect x="263.10" y="145.6" width="0.90" height="28.4" fill="#c75975"/>
<rect x="264.45" y="145.6" width="0.90" height="28.4" fill="#c85e79"/>
<rect x="265.80" y="145.6" width="0.90" height="28.4" fill="#c9637d"/>
<rect x="267.15" y="145.6" width="0.90" height="28.4" fill="#c9657f"/>
<rect x="271.20" y="145.6" width="0.90" height="28.4" fill="#c0506c"/>
<rect x="274.10" y="145.6" width="0.90" height="28.4" fill="#c0506c"/>
<rect x="277.80" y="145.6" width="0.90" height="28.4" fill="#cc7990"/>
<rect x="30.5" y="180.0" width="290.0" height="1" fill="#2b2b2b"/>
<rect x="30.60" y="180.0" width="0.9" height="3.4" fill="#2b2b2b"/>
<text x="28.6" y="192.6" font-size="9.8" fill="#2b2b2b" stroke="#2b2b2b" stroke-width="0.28" textLength="4.8" lengthAdjust="spacingAndGlyphs">0</text>
<rect x="58.40" y="180.0" width="0.9" height="3.4" fill="#2b2b2b"/>
<text x="51.5" y="192.6" font-size="9.8" fill="#2b2b2b" stroke="#2b2b2b" stroke-width="0.28" textLength="14.5" lengthAdjust="spacingAndGlyphs">200</text>
<rect x="86.20" y="180.0" width="0.9" height="3.4" fill="#2b2b2b"/>
<text x="79.3" y="192.6" font-size="9.8" fill="#2b2b2b" stroke="#2b2b2b" stroke-width="0.28" textLength="14.5" lengthAdjust="spacingAndGlyphs">400</text>
<rect x="114.00" y="180.0" width="0.9" height="3.4" fill="#2b2b2b"/>
<text x="107.2" y="192.6" font-size="9.8" fill="#2b2b2b" stroke="#2b2b2b" stroke-width="0.28" textLength="14.5" lengthAdjust="spacingAndGlyphs">600</text>
<rect x="141.80" y="180.0" width="0.9" height="3.4" fill="#2b2b2b"/>
<text x="134.9" y="192.6" font-size="9.8" fill="#2b2b2b" stroke="#2b2b2b" stroke-width="0.28" textLength="14.5" lengthAdjust="spacingAndGlyphs">800</text>
<rect x="169.60" y="180.0" width="0.9" height="3.4" fill="#2b2b2b"/>
<text x="161.6" y="192.6" font-size="9.8" fill="#2b2b2b" stroke="#2b2b2b" stroke-width="0.28" textLength="16.8" lengthAdjust="spacingAndGlyphs">1 000</text>
<rect x="197.40" y="180.0" width="0.9" height="3.4" fill="#2b2b2b"/>
<text x="189.4" y="192.6" font-size="9.8" fill="#2b2b2b" stroke="#2b2b2b" stroke-width="0.28" textLength="16.8" lengthAdjust="spacingAndGlyphs">1 200</text>
<rect x="225.20" y="180.0" width="0.9" height="3.4" fill="#2b2b2b"/>
<text x="217.2" y="192.6" font-size="9.8" fill="#2b2b2b" stroke="#2b2b2b" stroke-width="0.28" textLength="16.8" lengthAdjust="spacingAndGlyphs">1 400</text>
<rect x="253.00" y="180.0" width="0.9" height="3.4" fill="#2b2b2b"/>
<text x="245.0" y="192.6" font-size="9.8" fill="#2b2b2b" stroke="#2b2b2b" stroke-width="0.28" textLength="16.8" lengthAdjust="spacingAndGlyphs">1 600</text>
<rect x="280.80" y="180.0" width="0.9" height="3.4" fill="#2b2b2b"/>
<text x="272.8" y="192.6" font-size="9.8" fill="#2b2b2b" stroke="#2b2b2b" stroke-width="0.28" textLength="16.8" lengthAdjust="spacingAndGlyphs">1 800</text>
<rect x="308.60" y="180.0" width="0.9" height="3.4" fill="#2b2b2b"/>
<text x="299.8" y="192.6" font-size="9.8" fill="#2b2b2b" stroke="#2b2b2b" stroke-width="0.28" textLength="18.5" lengthAdjust="spacingAndGlyphs">2 000</text>
<text x="167.5" y="205.6" font-size="9.8" fill="#2b2b2b" stroke="#2b2b2b" stroke-width="0.28" textLength="15.0" lengthAdjust="spacingAndGlyphs">GW</text>
<text x="71.0" y="138.9" font-size="9.8" font-weight="bold" fill="#2b2b2b" stroke="#2b2b2b" stroke-width="0.12" textLength="22.5" lengthAdjust="spacingAndGlyphs">China</text>
<text x="139.5" y="138.9" font-size="9.8" font-weight="bold" fill="#2b2b2b" stroke="#2b2b2b" stroke-width="0.12" textLength="16.5" lengthAdjust="spacingAndGlyphs">USA</text>
<text x="162.0" y="138.9" font-size="9.8" font-weight="bold" fill="#2b2b2b" stroke="#2b2b2b" stroke-width="0.12" textLength="20.0" lengthAdjust="spacingAndGlyphs">India</text>
<text x="74.7" y="163.6" font-size="9.9" font-weight="bold" fill="#2b2220" stroke="#2b2220" stroke-width="0.12" textLength="15.6" lengthAdjust="spacingAndGlyphs">37%</text>
<text x="140.5" y="163.6" font-size="9.9" font-weight="bold" fill="#2b2220" stroke="#2b2220" stroke-width="0.12" textLength="15.6" lengthAdjust="spacingAndGlyphs">10%</text>
<text x="166.8" y="163.6" font-size="9.9" font-weight="bold" fill="#2b2220" stroke="#2b2220" stroke-width="0.12" textLength="11.0" lengthAdjust="spacingAndGlyphs">7%</text>
<rect x="336.3" y="144.8" width="280.9" height="30.1" fill="#fff"/>
<rect x="337.00" y="145.6" width="59.75" height="28.4" fill="#f4cb6c"/>
<rect x="397.85" y="145.6" width="47.60" height="28.4" fill="#f8a65c"/>
<rect x="446.55" y="145.6" width="43.10" height="28.4" fill="#f79a58"/>
<rect x="490.75" y="145.6" width="40.50" height="28.4" fill="#f38a52"/>
<rect x="532.35" y="145.6" width="10.40" height="28.4" fill="#dc524f"/>
<rect x="543.85" y="145.6" width="9.90" height="28.4" fill="#d5454f"/>
<rect x="554.65" y="145.6" width="4.20" height="28.4" fill="#cc3e50"/>
<rect x="559.55" y="145.6" width="5.30" height="28.4" fill="#cd3d50"/>
<rect x="565.55" y="145.6" width="4.10" height="28.4" fill="#c93a50"/>
<rect x="570.35" y="145.6" width="4.10" height="28.4" fill="#c63852"/>
<rect x="575.15" y="145.6" width="3.50" height="28.4" fill="#c43754"/>
<rect x="579.35" y="145.6" width="2.60" height="28.4" fill="#c33756"/>
<rect x="582.65" y="145.6" width="2.60" height="28.4" fill="#c23757"/>
<rect x="585.95" y="145.6" width="1.40" height="28.4" fill="#c2405e"/>
<rect x="588.10" y="145.6" width="0.90" height="28.4" fill="#c75e7b"/>
<rect x="589.40" y="145.6" width="0.90" height="28.4" fill="#c96581"/>
<rect x="590.70" y="145.6" width="0.90" height="28.4" fill="#ca6b87"/>
<rect x="592.00" y="145.6" width="0.90" height="28.4" fill="#cc718c"/>
<rect x="593.30" y="145.6" width="0.90" height="28.4" fill="#ce7892"/>
<rect x="594.60" y="145.6" width="0.90" height="28.4" fill="#cf7e97"/>
<rect x="597.40" y="145.6" width="0.80" height="28.4" fill="#d9a3b5"/>
<rect x="602.30" y="145.6" width="0.90" height="28.4" fill="#b8486a"/>
<rect x="336.5" y="180.0" width="295.0" height="1" fill="#2b2b2b"/>
<rect x="336.60" y="180.0" width="0.9" height="3.4" fill="#2b2b2b"/>
<text x="334.6" y="192.6" font-size="9.8" fill="#2b2b2b" stroke="#2b2b2b" stroke-width="0.28" textLength="4.8" lengthAdjust="spacingAndGlyphs">0</text>
<rect x="360.60" y="180.0" width="0.9" height="3.4" fill="#2b2b2b"/>
<text x="356.4" y="192.6" font-size="9.8" fill="#2b2b2b" stroke="#2b2b2b" stroke-width="0.28" textLength="9.3" lengthAdjust="spacingAndGlyphs">50</text>
<rect x="384.60" y="180.0" width="0.9" height="3.4" fill="#2b2b2b"/>
<text x="377.8" y="192.6" font-size="9.8" fill="#2b2b2b" stroke="#2b2b2b" stroke-width="0.28" textLength="14.5" lengthAdjust="spacingAndGlyphs">100</text>
<rect x="408.60" y="180.0" width="0.9" height="3.4" fill="#2b2b2b"/>
<text x="401.8" y="192.6" font-size="9.8" fill="#2b2b2b" stroke="#2b2b2b" stroke-width="0.28" textLength="14.5" lengthAdjust="spacingAndGlyphs">150</text>
<rect x="432.60" y="180.0" width="0.9" height="3.4" fill="#2b2b2b"/>
<text x="425.8" y="192.6" font-size="9.8" fill="#2b2b2b" stroke="#2b2b2b" stroke-width="0.28" textLength="14.5" lengthAdjust="spacingAndGlyphs">200</text>
<rect x="456.60" y="180.0" width="0.9" height="3.4" fill="#2b2b2b"/>
<text x="449.8" y="192.6" font-size="9.8" fill="#2b2b2b" stroke="#2b2b2b" stroke-width="0.28" textLength="14.5" lengthAdjust="spacingAndGlyphs">250</text>
<rect x="480.60" y="180.0" width="0.9" height="3.4" fill="#2b2b2b"/>
<text x="473.8" y="192.6" font-size="9.8" fill="#2b2b2b" stroke="#2b2b2b" stroke-width="0.28" textLength="14.5" lengthAdjust="spacingAndGlyphs">300</text>
<rect x="504.60" y="180.0" width="0.9" height="3.4" fill="#2b2b2b"/>
<text x="497.8" y="192.6" font-size="9.8" fill="#2b2b2b" stroke="#2b2b2b" stroke-width="0.28" textLength="14.5" lengthAdjust="spacingAndGlyphs">350</text>
<rect x="528.60" y="180.0" width="0.9" height="3.4" fill="#2b2b2b"/>
<text x="521.8" y="192.6" font-size="9.8" fill="#2b2b2b" stroke="#2b2b2b" stroke-width="0.28" textLength="14.5" lengthAdjust="spacingAndGlyphs">400</text>
<rect x="552.60" y="180.0" width="0.9" height="3.4" fill="#2b2b2b"/>
<text x="545.8" y="192.6" font-size="9.8" fill="#2b2b2b" stroke="#2b2b2b" stroke-width="0.28" textLength="14.5" lengthAdjust="spacingAndGlyphs">450</text>
<rect x="576.60" y="180.0" width="0.9" height="3.4" fill="#2b2b2b"/>
<text x="569.8" y="192.6" font-size="9.8" fill="#2b2b2b" stroke="#2b2b2b" stroke-width="0.28" textLength="14.5" lengthAdjust="spacingAndGlyphs">500</text>
<rect x="600.60" y="180.0" width="0.9" height="3.4" fill="#2b2b2b"/>
<text x="593.8" y="192.6" font-size="9.8" fill="#2b2b2b" stroke="#2b2b2b" stroke-width="0.28" textLength="14.5" lengthAdjust="spacingAndGlyphs">550</text>
<rect x="624.60" y="180.0" width="0.9" height="3.4" fill="#2b2b2b"/>
<text x="617.8" y="192.6" font-size="9.8" fill="#2b2b2b" stroke="#2b2b2b" stroke-width="0.28" textLength="14.5" lengthAdjust="spacingAndGlyphs">600</text>
<text x="476.0" y="205.6" font-size="9.8" fill="#2b2b2b" stroke="#2b2b2b" stroke-width="0.28" textLength="15.0" lengthAdjust="spacingAndGlyphs">GW</text>
<text x="357.0" y="138.9" font-size="9.8" font-weight="bold" fill="#2b2b2b" stroke="#2b2b2b" stroke-width="0.12" textLength="20.0" lengthAdjust="spacingAndGlyphs">India</text>
<text x="410.3" y="138.9" font-size="9.8" font-weight="bold" fill="#2b2b2b" stroke="#2b2b2b" stroke-width="0.12" textLength="22.7" lengthAdjust="spacingAndGlyphs">Brazil</text>
<text x="456.5" y="138.9" font-size="9.8" font-weight="bold" fill="#2b2b2b" stroke="#2b2b2b" stroke-width="0.12" textLength="22.5" lengthAdjust="spacingAndGlyphs">China</text>
<text x="501.5" y="138.9" font-size="9.8" font-weight="bold" fill="#2b2b2b" stroke="#2b2b2b" stroke-width="0.12" textLength="17.8" lengthAdjust="spacingAndGlyphs">USA</text>
<text x="359.5" y="163.6" font-size="9.9" font-weight="bold" fill="#2b2220" stroke="#2b2220" stroke-width="0.12" textLength="15.6" lengthAdjust="spacingAndGlyphs">22%</text>
<text x="413.7" y="163.6" font-size="9.9" font-weight="bold" fill="#2b2220" stroke="#2b2220" stroke-width="0.12" textLength="15.6" lengthAdjust="spacingAndGlyphs">17%</text>
<text x="460.7" y="163.6" font-size="9.9" font-weight="bold" fill="#2b2220" stroke="#2b2220" stroke-width="0.12" textLength="15.6" lengthAdjust="spacingAndGlyphs">16%</text>
<text x="503.5" y="163.6" font-size="9.9" font-weight="bold" fill="#2b2220" stroke="#2b2220" stroke-width="0.12" textLength="15.6" lengthAdjust="spacingAndGlyphs">15%</text>
<rect x="30.3" y="500.3" width="276.6" height="29.6" fill="#fff"/>
<rect x="31.00" y="501.1" width="103.10" height="27.9" fill="#b6b2a6"/>
<rect x="135.00" y="501.1" width="75.10" height="27.9" fill="#27a5de"/>
<rect x="211.00" y="501.1" width="67.30" height="27.9" fill="#fbb146"/>
<rect x="279.20" y="501.1" width="14.10" height="27.9" fill="#9fce6d"/>
<rect x="294.00" y="501.1" width="1.60" height="27.9" fill="#93c062"/>
<rect x="296.30" y="501.1" width="1.20" height="27.9" fill="#dcebc6"/>
<rect x="298.20" y="501.1" width="1.20" height="27.9" fill="#eef3de"/>
<rect x="300.20" y="501.1" width="1.00" height="27.9" fill="#f5f6e6"/>
<rect x="302.00" y="501.1" width="0.90" height="27.9" fill="#f8f8ec"/>
<rect x="30.5" y="534.0" width="290.0" height="1" fill="#2b2b2b"/>
<rect x="30.60" y="534.0" width="0.9" height="3.4" fill="#2b2b2b"/>
<text x="28.6" y="548.1" font-size="9.8" fill="#2b2b2b" stroke="#2b2b2b" stroke-width="0.28" textLength="4.8" lengthAdjust="spacingAndGlyphs">0</text>
<rect x="58.40" y="534.0" width="0.9" height="3.4" fill="#2b2b2b"/>
<text x="51.5" y="548.1" font-size="9.8" fill="#2b2b2b" stroke="#2b2b2b" stroke-width="0.28" textLength="14.5" lengthAdjust="spacingAndGlyphs">200</text>
<rect x="86.20" y="534.0" width="0.9" height="3.4" fill="#2b2b2b"/>
<text x="79.3" y="548.1" font-size="9.8" fill="#2b2b2b" stroke="#2b2b2b" stroke-width="0.28" textLength="14.5" lengthAdjust="spacingAndGlyphs">400</text>
<rect x="114.00" y="534.0" width="0.9" height="3.4" fill="#2b2b2b"/>
<text x="107.2" y="548.1" font-size="9.8" fill="#2b2b2b" stroke="#2b2b2b" stroke-width="0.28" textLength="14.5" lengthAdjust="spacingAndGlyphs">600</text>
<rect x="141.80" y="534.0" width="0.9" height="3.4" fill="#2b2b2b"/>
<text x="134.9" y="548.1" font-size="9.8" fill="#2b2b2b" stroke="#2b2b2b" stroke-width="0.28" textLength="14.5" lengthAdjust="spacingAndGlyphs">800</text>
<rect x="169.60" y="534.0" width="0.9" height="3.4" fill="#2b2b2b"/>
<text x="161.6" y="548.1" font-size="9.8" fill="#2b2b2b" stroke="#2b2b2b" stroke-width="0.28" textLength="16.8" lengthAdjust="spacingAndGlyphs">1 000</text>
<rect x="197.40" y="534.0" width="0.9" height="3.4" fill="#2b2b2b"/>
<text x="189.4" y="548.1" font-size="9.8" fill="#2b2b2b" stroke="#2b2b2b" stroke-width="0.28" textLength="16.8" lengthAdjust="spacingAndGlyphs">1 200</text>
<rect x="225.20" y="534.0" width="0.9" height="3.4" fill="#2b2b2b"/>
<text x="217.2" y="548.1" font-size="9.8" fill="#2b2b2b" stroke="#2b2b2b" stroke-width="0.28" textLength="16.8" lengthAdjust="spacingAndGlyphs">1 400</text>
<rect x="253.00" y="534.0" width="0.9" height="3.4" fill="#2b2b2b"/>
<text x="245.0" y="548.1" font-size="9.8" fill="#2b2b2b" stroke="#2b2b2b" stroke-width="0.28" textLength="16.8" lengthAdjust="spacingAndGlyphs">1 600</text>
<rect x="280.80" y="534.0" width="0.9" height="3.4" fill="#2b2b2b"/>
<text x="272.8" y="548.1" font-size="9.8" fill="#2b2b2b" stroke="#2b2b2b" stroke-width="0.28" textLength="16.8" lengthAdjust="spacingAndGlyphs">1 800</text>
<rect x="308.60" y="534.0" width="0.9" height="3.4" fill="#2b2b2b"/>
<text x="299.8" y="548.1" font-size="9.8" fill="#2b2b2b" stroke="#2b2b2b" stroke-width="0.28" textLength="18.5" lengthAdjust="spacingAndGlyphs">2 000</text>
<text x="167.5" y="562.1" font-size="9.8" fill="#2b2b2b" stroke="#2b2b2b" stroke-width="0.28" textLength="15.0" lengthAdjust="spacingAndGlyphs">GW</text>
<text x="55.0" y="493.6" font-size="9.8" font-weight="bold" fill="#2b2b2b" stroke="#2b2b2b" stroke-width="0.12" textLength="55.5" lengthAdjust="spacingAndGlyphs">Onshore wind</text>
<text x="160.5" y="493.6" font-size="9.8" font-weight="bold" fill="#2b2b2b" stroke="#2b2b2b" stroke-width="0.12" textLength="24.0" lengthAdjust="spacingAndGlyphs">Hydro</text>
<text x="234.3" y="493.6" font-size="9.8" font-weight="bold" fill="#2b2b2b" stroke="#2b2b2b" stroke-width="0.12" textLength="20.2" lengthAdjust="spacingAndGlyphs">Solar</text>
<text x="74.7" y="519.0" font-size="9.9" font-weight="bold" fill="#2b2220" stroke="#2b2220" stroke-width="0.12" textLength="15.6" lengthAdjust="spacingAndGlyphs">38%</text>
<text x="165.2" y="519.0" font-size="9.9" font-weight="bold" fill="#2b2220" stroke="#2b2220" stroke-width="0.12" textLength="15.6" lengthAdjust="spacingAndGlyphs">27%</text>
<text x="236.7" y="519.0" font-size="9.9" font-weight="bold" fill="#2b2220" stroke="#2b2220" stroke-width="0.12" textLength="15.6" lengthAdjust="spacingAndGlyphs">25%</text>
<rect x="336.3" y="500.3" width="280.9" height="29.6" fill="#fff"/>
<rect x="337.00" y="501.1" width="111.60" height="27.9" fill="#fbb146"/>
<rect x="449.50" y="501.1" width="90.70" height="27.9" fill="#b6b2a6"/>
<rect x="541.20" y="501.1" width="27.10" height="27.9" fill="#696a6e"/>
<rect x="569.70" y="501.1" width="19.60" height="27.9" fill="#9fce6d"/>
<rect x="590.80" y="501.1" width="6.20" height="27.9" fill="#c3df9f"/>
<rect x="598.30" y="501.1" width="3.60" height="27.9" fill="#b0d688"/>
<rect x="603.00" y="501.1" width="3.00" height="27.9" fill="#a6d077"/>
<rect x="607.10" y="501.1" width="2.30" height="27.9" fill="#c8e1a2"/>
<rect x="610.00" y="501.1" width="1.80" height="27.9" fill="#d7e8ba"/>
<rect x="612.40" y="501.1" width="1.20" height="27.9" fill="#e8f0d3"/>
<rect x="336.5" y="534.0" width="295.0" height="1" fill="#2b2b2b"/>
<rect x="336.60" y="534.0" width="0.9" height="3.4" fill="#2b2b2b"/>
<text x="334.6" y="548.1" font-size="9.8" fill="#2b2b2b" stroke="#2b2b2b" stroke-width="0.28" textLength="4.8" lengthAdjust="spacingAndGlyphs">0</text>
<rect x="360.60" y="534.0" width="0.9" height="3.4" fill="#2b2b2b"/>
<text x="356.4" y="548.1" font-size="9.8" fill="#2b2b2b" stroke="#2b2b2b" stroke-width="0.28" textLength="9.3" lengthAdjust="spacingAndGlyphs">50</text>
<rect x="384.60" y="534.0" width="0.9" height="3.4" fill="#2b2b2b"/>
<text x="377.8" y="548.1" font-size="9.8" fill="#2b2b2b" stroke="#2b2b2b" stroke-width="0.28" textLength="14.5" lengthAdjust="spacingAndGlyphs">100</text>
<rect x="408.60" y="534.0" width="0.9" height="3.4" fill="#2b2b2b"/>
<text x="401.8" y="548.1" font-size="9.8" fill="#2b2b2b" stroke="#2b2b2b" stroke-width="0.28" textLength="14.5" lengthAdjust="spacingAndGlyphs">150</text>
<rect x="432.60" y="534.0" width="0.9" height="3.4" fill="#2b2b2b"/>
<text x="425.8" y="548.1" font-size="9.8" fill="#2b2b2b" stroke="#2b2b2b" stroke-width="0.28" textLength="14.5" lengthAdjust="spacingAndGlyphs">200</text>
<rect x="456.60" y="534.0" width="0.9" height="3.4" fill="#2b2b2b"/>
<text x="449.8" y="548.1" font-size="9.8" fill="#2b2b2b" stroke="#2b2b2b" stroke-width="0.28" textLength="14.5" lengthAdjust="spacingAndGlyphs">250</text>
<rect x="480.60" y="534.0" width="0.9" height="3.4" fill="#2b2b2b"/>
<text x="473.8" y="548.1" font-size="9.8" fill="#2b2b2b" stroke="#2b2b2b" stroke-width="0.28" textLength="14.5" lengthAdjust="spacingAndGlyphs">300</text>
<rect x="504.60" y="534.0" width="0.9" height="3.4" fill="#2b2b2b"/>
<text x="497.8" y="548.1" font-size="9.8" fill="#2b2b2b" stroke="#2b2b2b" stroke-width="0.28" textLength="14.5" lengthAdjust="spacingAndGlyphs">350</text>
<rect x="528.60" y="534.0" width="0.9" height="3.4" fill="#2b2b2b"/>
<text x="521.8" y="548.1" font-size="9.8" fill="#2b2b2b" stroke="#2b2b2b" stroke-width="0.28" textLength="14.5" lengthAdjust="spacingAndGlyphs">400</text>
<rect x="552.60" y="534.0" width="0.9" height="3.4" fill="#2b2b2b"/>
<text x="545.8" y="548.1" font-size="9.8" fill="#2b2b2b" stroke="#2b2b2b" stroke-width="0.28" textLength="14.5" lengthAdjust="spacingAndGlyphs">450</text>
<rect x="576.60" y="534.0" width="0.9" height="3.4" fill="#2b2b2b"/>
<text x="569.8" y="548.1" font-size="9.8" fill="#2b2b2b" stroke="#2b2b2b" stroke-width="0.28" textLength="14.5" lengthAdjust="spacingAndGlyphs">500</text>
<rect x="600.60" y="534.0" width="0.9" height="3.4" fill="#2b2b2b"/>
<text x="593.8" y="548.1" font-size="9.8" fill="#2b2b2b" stroke="#2b2b2b" stroke-width="0.28" textLength="14.5" lengthAdjust="spacingAndGlyphs">550</text>
<rect x="624.60" y="534.0" width="0.9" height="3.4" fill="#2b2b2b"/>
<text x="617.8" y="548.1" font-size="9.8" fill="#2b2b2b" stroke="#2b2b2b" stroke-width="0.28" textLength="14.5" lengthAdjust="spacingAndGlyphs">600</text>
<text x="476.0" y="562.1" font-size="9.8" fill="#2b2b2b" stroke="#2b2b2b" stroke-width="0.28" textLength="15.0" lengthAdjust="spacingAndGlyphs">GW</text>
<text x="383.0" y="493.6" font-size="9.8" font-weight="bold" fill="#2b2b2b" stroke="#2b2b2b" stroke-width="0.12" textLength="19.8" lengthAdjust="spacingAndGlyphs">Solar</text>
<text x="466.5" y="493.6" font-size="9.8" font-weight="bold" fill="#2b2b2b" stroke="#2b2b2b" stroke-width="0.12" textLength="55.5" lengthAdjust="spacingAndGlyphs">Onshore wind</text>
<text x="541.3" y="493.6" font-size="9.8" font-weight="bold" fill="#2b2b2b" stroke="#2b2b2b" stroke-width="0.12" textLength="56.7" lengthAdjust="spacingAndGlyphs">Offshore wind</text>
<text x="385.0" y="519.0" font-size="9.9" font-weight="bold" fill="#2b2220" stroke="#2b2220" stroke-width="0.12" textLength="15.6" lengthAdjust="spacingAndGlyphs">40%</text>
<text x="486.2" y="519.0" font-size="9.9" font-weight="bold" fill="#2b2220" stroke="#2b2220" stroke-width="0.12" textLength="15.6" lengthAdjust="spacingAndGlyphs">33%</text>
<text x="547.7" y="519.0" font-size="9.9" font-weight="bold" fill="#2b2220" stroke="#2b2220" stroke-width="0.12" textLength="15.6" lengthAdjust="spacingAndGlyphs">10%</text>
<text x="117.5" y="588.2" font-size="8.8" fill="#222" stroke="#222" stroke-width="0.28" textLength="77.5" lengthAdjust="spacingAndGlyphs">Number of projects</text>
<circle cx="208.8" cy="585.3" r="1" fill="#fff"/>
<circle cx="254.5" cy="585" r="5.3" fill="#c9cccf" stroke="#fafbfb" stroke-width="1.2"/>
<circle cx="308" cy="585" r="7.9" fill="#c9cccf" stroke="#fafbfb" stroke-width="1.2"/>
<circle cx="364.8" cy="585" r="9.5" fill="#c9cccf" stroke="#fafbfb" stroke-width="1.2"/>
<circle cx="426" cy="585" r="11.4" fill="#c9cccf" stroke="#fafbfb" stroke-width="1.2"/>
<circle cx="491" cy="585" r="13" fill="#c9cccf" stroke="#fafbfb" stroke-width="1.2"/>
<text x="213.8" y="588.2" font-size="8.8" fill="#222" stroke="#222" stroke-width="0.28" textLength="22.5" lengthAdjust="spacingAndGlyphs">≤ 100</text>
<text x="265.0" y="588.2" font-size="8.8" fill="#222" stroke="#222" stroke-width="0.28" textLength="21.8" lengthAdjust="spacingAndGlyphs">1 000</text>
<text x="321.3" y="588.2" font-size="8.8" fill="#222" stroke="#222" stroke-width="0.28" textLength="21.0" lengthAdjust="spacingAndGlyphs">2 000</text>
<text x="381.0" y="588.2" font-size="8.8" fill="#222" stroke="#222" stroke-width="0.28" textLength="20.0" lengthAdjust="spacingAndGlyphs">3 000</text>
<text x="444.5" y="588.2" font-size="8.8" fill="#222" stroke="#222" stroke-width="0.28" textLength="20.8" lengthAdjust="spacingAndGlyphs">4 000</text>
<text x="510.8" y="588.2" font-size="8.8" fill="#222" stroke="#222" stroke-width="0.28" textLength="28.7" lengthAdjust="spacingAndGlyphs">≥ 5 000</text>
<text transform="translate(634,393.8) rotate(-90)" font-size="5.9" fill="#4a4a4a" textLength="98" lengthAdjust="spacingAndGlyphs">© 2021 Mapbox © OpenStreetMap</text>
<text x="15.3" y="626.6" font-size="10.8" font-style="italic" fill="#1d1d1b" stroke="#1d1d1b" stroke-width="0.28" textLength="591.7" lengthAdjust="spacingAndGlyphs">Disclaimer: This map is provided for illustration purposes only. Boundaries and names shown on this map do not imply any official</text>
<text x="15.3" y="640.4" font-size="10.8" font-style="italic" fill="#1d1d1b" stroke="#1d1d1b" stroke-width="0.28" textLength="176.7" lengthAdjust="spacingAndGlyphs">endorsement or acceptance by IRENA.</text>
<rect x="14" y="649.5" width="630" height="1.3" fill="#4f819c"/>
<g><text x="515.6" y="642.8" font-size="17.5" fill="#8c8c8c" fill-opacity="0.8" textLength="124" lengthAdjust="spacingAndGlyphs">风能专委会CWEA</text><text x="514.7" y="642" font-size="17.5" fill="#fff" stroke="#9a9a9a" stroke-width="0.35" textLength="124" lengthAdjust="spacingAndGlyphs">风能专委会CWEA</text>
<g fill="#fff" stroke="#8f8f8f" stroke-width="0.8"><path d="M490.5 626c-5.3 0-9.5 3.4-9.5 7.6 0 2.4 1.4 4.5 3.5 5.9l-0.9 2.8 3.2-1.7c1.1 0.4 2.4 0.6 3.7 0.6 5.3 0 9.5-3.4 9.5-7.6s-4.2-7.6-9.5-7.600z"/><path d="M499.500 631.500c-4.500 0-8.200 2.900-8.200 6.500s3.700 6.500 8.200 6.500c1 0 2-0.200 2.900-0.400l2.700 1.400-0.700-2.300c2-1.200 3.300-3.100 3.300-5.200 0-3.600-3.700-6.500-8.200-6.500z"/></g><g fill="#8f8f8f"><circle cx="487.300" cy="631.800" r="0.900"/><circle cx="493.300" cy="631.800" r="0.900"/><circle cx="496.800" cy="636.800" r="0.800"/><circle cx="502" cy="636.800" r="0.800"/></g></g>
</svg>
</body></html>
